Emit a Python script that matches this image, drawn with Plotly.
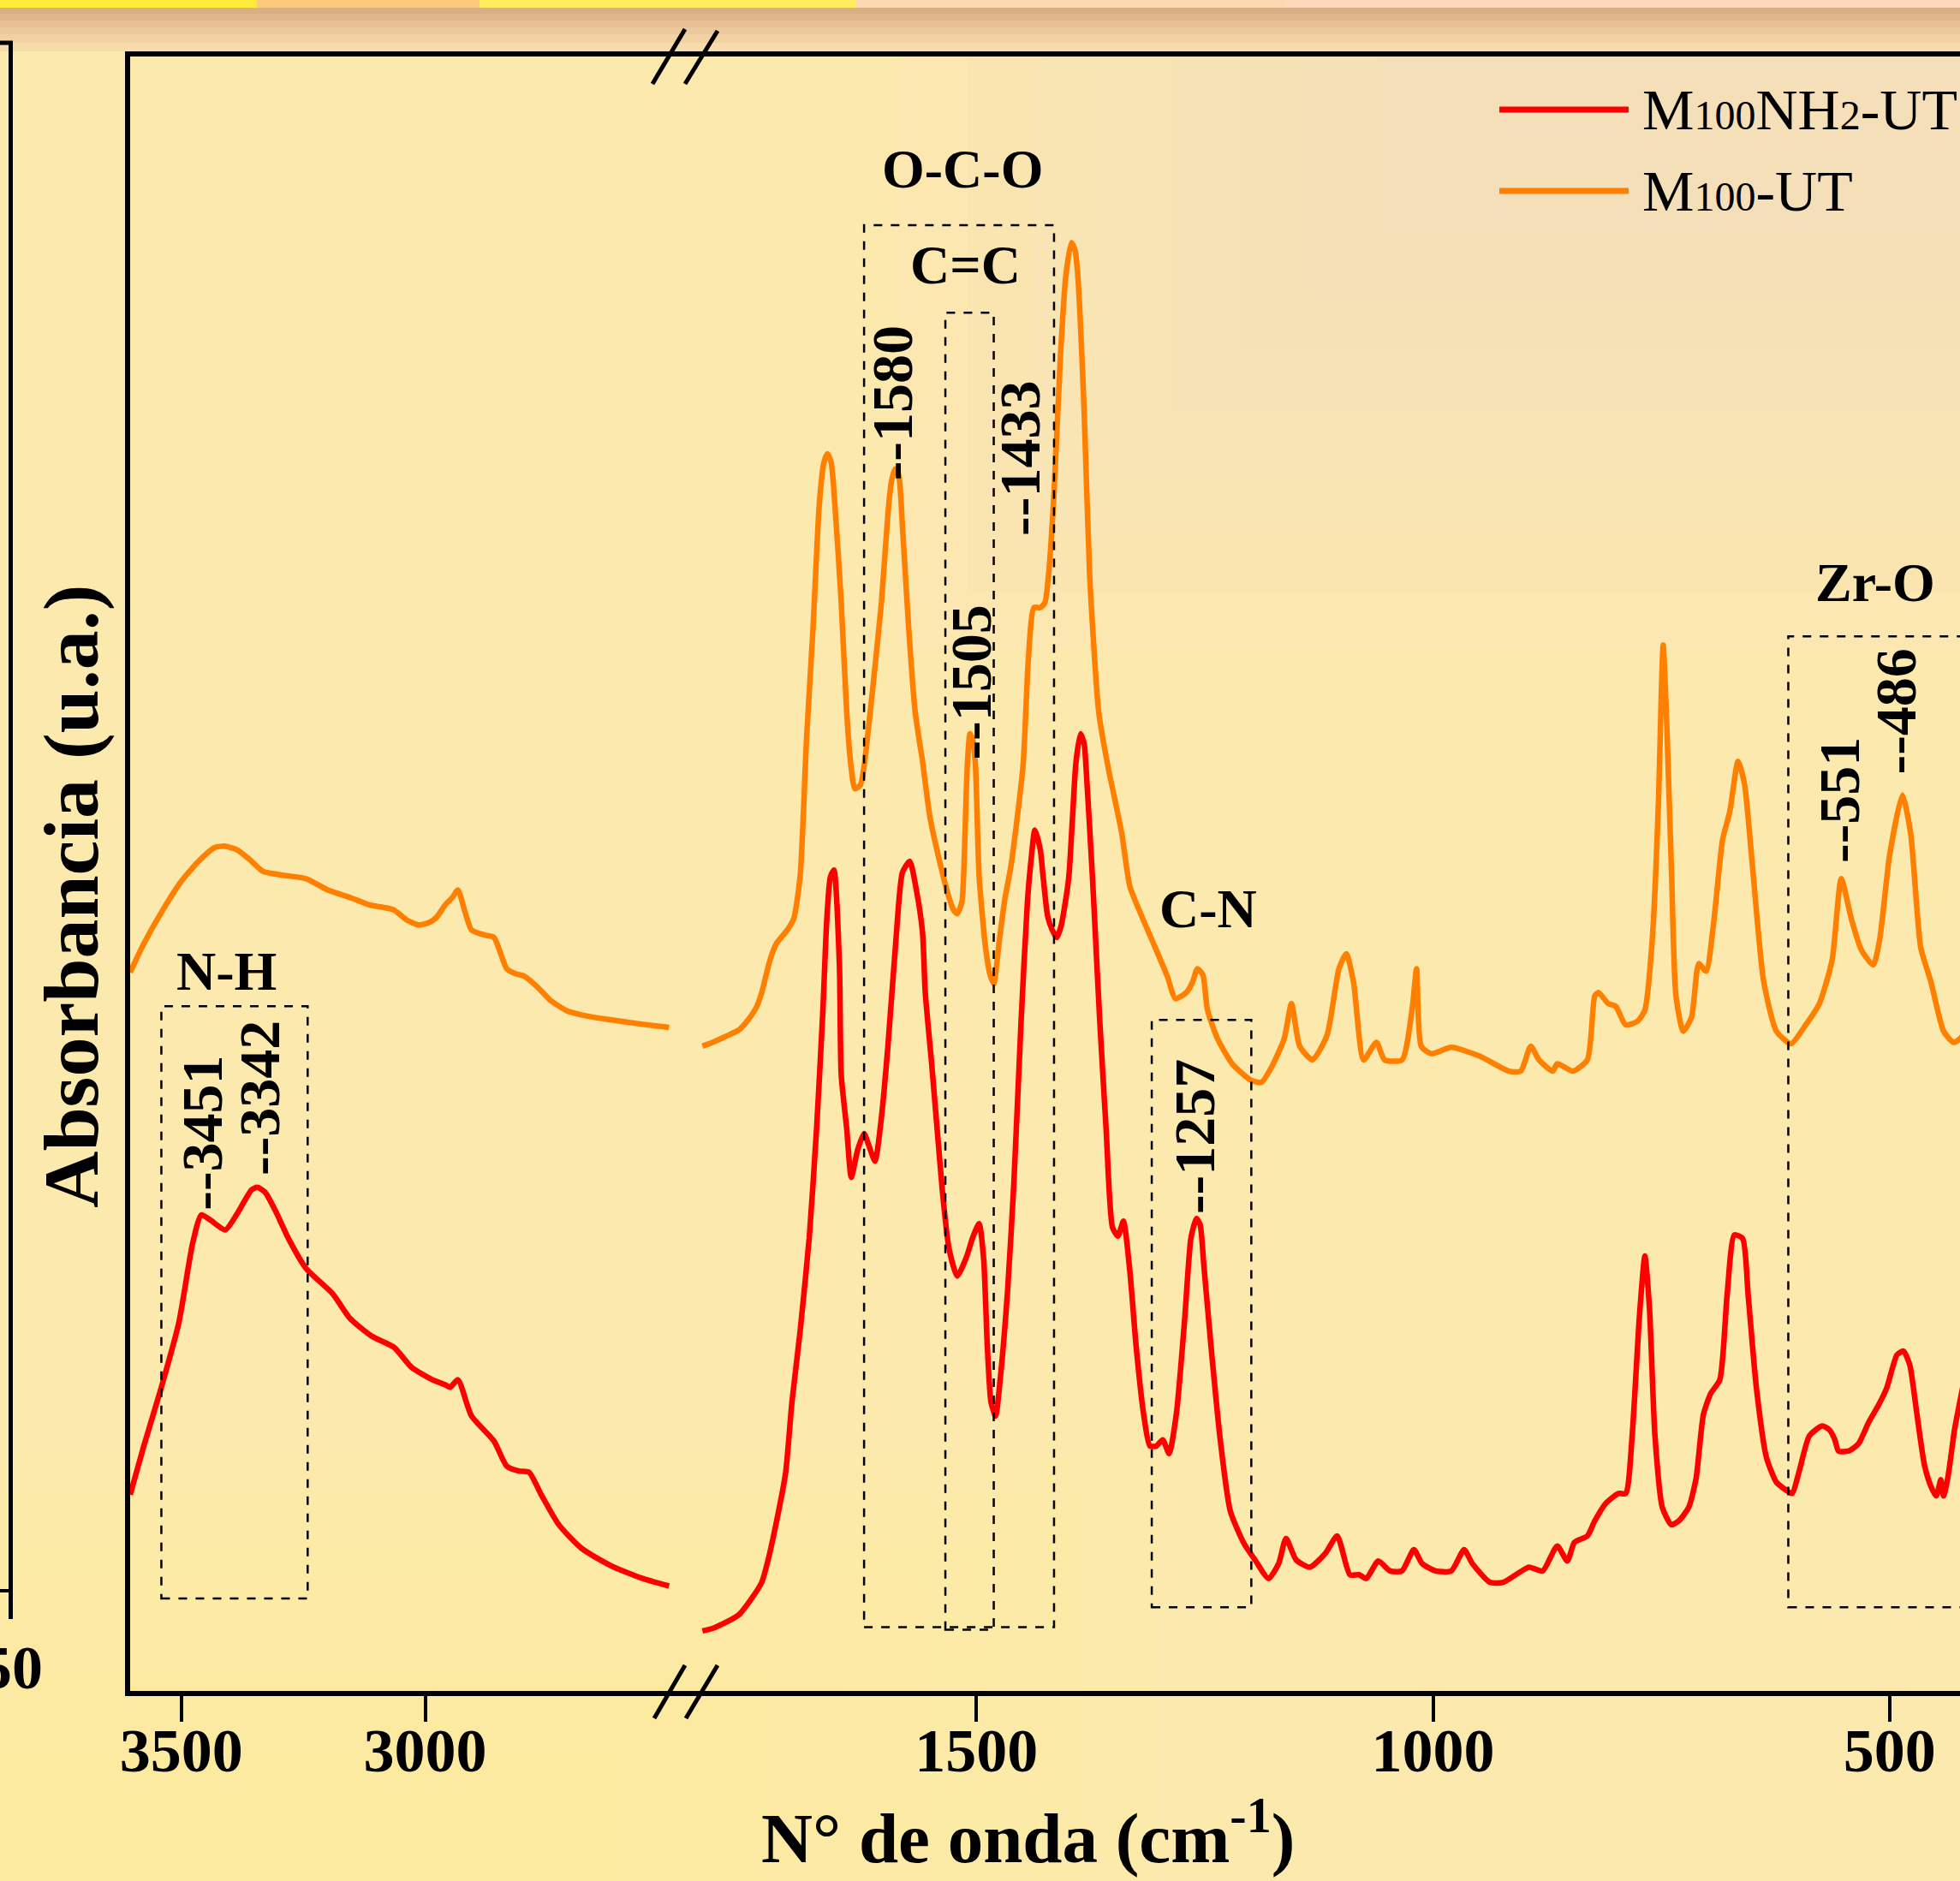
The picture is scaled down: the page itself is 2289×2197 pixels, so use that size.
import plotly.graph_objects as go

# ---------------- data ----------------
series_names = ["M100NH2-UT", "M100-UT"]
series_colors = ["#FF0000", "#FF8000"]

# high-wavenumber segment (3600-2500 cm-1)
wn_left_m100 = [3605, 3577, 3538, 3500, 3462, 3431, 3410, 3385, 3359, 3333, 3295, 3244, 3200,
                3154, 3115, 3085, 3064, 3038, 3013, 2992, 2977, 2959, 2944, 2933, 2918, 2905,
                2879, 2859, 2846, 2833, 2815, 2797, 2769, 2744, 2708, 2667, 2618, 2564, 2500]
abs_left_m100 = [57.5, 59.8, 62.5, 64.8, 66.5, 67.5, 67.6, 67.3, 66.5, 65.6, 65.3, 65.0, 64.1,
                 63.5, 62.9, 62.7, 62.5, 61.7, 61.3, 61.5, 61.9, 62.9, 63.5, 64.1, 62.3, 60.9,
                 60.5, 60.3, 59.1, 57.8, 57.4, 57.2, 56.3, 55.3, 54.4, 54.0, 53.7, 53.4, 53.1]

wn_left_nh2 = [3605, 3577, 3541, 3505, 3477, 3459, 3441, 3410, 3387, 3356, 3344, 3328, 3308,
               3279, 3244, 3190, 3154, 3110, 3064, 3028, 2985, 2959, 2949, 2933, 2905, 2859,
               2833, 2808, 2787, 2762, 2726, 2679, 2618, 2554, 2500]
abs_left_nh2 = [15.7, 19.6, 24.3, 29.5, 35.8, 38.1, 37.7, 36.9, 38.1, 40.1, 40.3, 39.9, 38.5,
                36.1, 33.8, 31.8, 29.8, 28.4, 27.5, 25.9, 24.9, 24.5, 24.3, 24.9, 22.0, 20.0,
                18.0, 17.6, 17.5, 15.7, 13.3, 11.4, 10.0, 9.0, 8.4]

# low-wavenumber segment (1800-400 cm-1)
wn_right_m100 = [1800, 1789, 1774, 1760, 1750, 1741, 1735, 1726, 1719, 1707, 1700, 1693, 1686,
                 1679, 1672, 1667, 1663, 1659, 1655, 1648, 1642, 1637, 1633, 1627, 1623, 1615,
                 1604, 1597, 1593, 1589, 1585, 1581, 1574, 1567, 1559, 1551, 1538, 1530, 1525,
                 1521, 1516, 1514, 1510, 1507, 1504, 1501, 1497, 1490, 1485, 1481, 1475, 1469,
                 1462, 1449, 1443, 1437, 1430, 1425, 1421, 1415, 1408, 1402, 1396, 1392, 1389,
                 1382, 1376, 1366, 1356, 1341, 1332, 1319, 1306, 1291, 1282, 1270, 1263, 1258,
                 1252, 1247, 1236, 1220, 1200, 1188, 1177, 1163, 1155, 1146, 1132, 1116, 1103,
                 1095, 1087, 1076, 1062, 1053, 1034, 1023, 1018, 1013, 1002, 980, 949, 917, 904,
                 893, 884, 869, 864, 847, 831, 823, 819, 808, 800, 789, 776, 768, 760, 753, 750,
                 748, 744, 739, 734, 726, 717, 709, 701, 693, 683, 675, 666, 659, 650, 638, 624,
                 608, 592, 577, 563, 553, 542, 531, 518, 511, 500, 486, 477, 466, 455, 441, 430,
                 423, 410]
abs_right_m100 = [51.6, 51.9, 52.4, 52.9, 53.7, 54.7, 55.9, 58.5, 59.8, 60.9, 61.8, 65.2, 76.2,
                  84.9, 95.0, 98.3, 99.0, 98.3, 95.0, 87.1, 78.3, 73.8, 72.2, 72.5, 74.0, 79.2,
                  87.1, 94.1, 96.8, 97.8, 97.3, 93.2, 84.9, 78.3, 74.4, 70.0, 65.7, 63.5, 62.5,
                  62.2, 63.1, 65.2, 74.0, 76.6, 76.1, 74.0, 65.2, 59.5, 57.3, 56.6, 60.0, 63.3,
                  66.1, 74.0, 82.7, 86.7, 86.7, 87.1, 89.3, 95.9, 106.8, 113.3, 115.9, 115.3, 113.3,
                  102.4, 89.3, 78.3, 74.0, 68.7, 64.4, 62.0, 59.8, 57.2, 55.4, 55.9, 56.8, 57.8,
                  57.3, 54.5, 52.2, 50.2, 48.9, 48.7, 49.9, 52.2, 55.0, 51.6, 50.5, 52.5, 57.8,
                  59.0, 56.7, 50.5, 51.9, 50.5, 50.5, 54.5, 57.8, 51.6, 51.0, 51.5, 50.8, 49.6, 49.6,
                  51.6, 50.5, 49.6, 50.2, 49.6, 50.5, 55.6, 55.9, 55.0, 54.8, 53.3, 53.6, 54.5, 60.1,
                  71.5, 80.0, 83.7, 77.2, 65.8, 55.6, 52.8, 53.9, 58.2, 57.6, 61.3, 68.1, 70.4, 74.4,
                  72.6, 65.8, 56.8, 52.8, 51.8, 53.3, 55.0, 58.5, 65.0, 61.8, 59.3, 58.1, 60.1, 66.9,
                  71.7, 68.6, 59.5, 56.8, 52.8, 51.9, 52.2, 53.5]

wn_right_nh2 = [1800, 1789, 1774, 1760, 1748, 1735, 1728, 1719, 1709, 1702, 1693, 1683, 1675,
                1668, 1664, 1660, 1656, 1650, 1648, 1642, 1637, 1630, 1623, 1618, 1611, 1604,
                1597, 1588, 1581, 1573, 1566, 1559, 1556, 1549, 1542, 1537, 1530, 1521, 1511,
                1504, 1497, 1492, 1488, 1484, 1479, 1474, 1466, 1459, 1451, 1444, 1440, 1436,
                1430, 1427, 1422, 1417, 1412, 1407, 1399, 1395, 1391, 1386, 1382, 1380, 1373,
                1371, 1365, 1358, 1351, 1345, 1339, 1332, 1325, 1317, 1310, 1303, 1296, 1289,
                1281, 1272, 1265, 1259, 1255, 1251, 1243, 1233, 1222, 1207, 1195, 1180, 1169,
                1161, 1150, 1135, 1118, 1105, 1091, 1081, 1073, 1060, 1047, 1034, 1021, 1012,
                997, 980, 966, 957, 938, 923, 895, 880, 864, 853, 845, 831, 823, 811, 797, 789,
                782, 774, 768, 763, 757, 749, 739, 731, 720, 712, 704, 696, 686, 678, 670, 661,
                655, 646, 635, 624, 614, 607, 599, 588, 574, 566, 560, 556, 545, 534, 523, 512,
                503, 492, 485, 478, 471, 462, 455, 449, 444, 441, 436, 429, 423, 410]
abs_right_nh2 = [4.8, 5.0, 5.5, 6.1, 7.2, 8.7, 10.5, 13.5, 17.4, 23.1, 28.8, 36.3, 45.0,
                 54.6, 61.5, 65.1, 65.7, 58.1, 49.3, 45.0, 41.1, 43.3, 44.6, 43.7, 42.4, 45.9,
                 51.5, 60.2, 65.5, 66.4, 64.2, 60.7, 55.9, 50.2, 44.1, 39.8, 35.4, 33.2, 34.7,
                 36.3, 37.4, 34.5, 27.5, 23.1, 22.0, 24.9, 31.9, 40.6, 53.7, 63.3, 66.6, 68.9,
                 67.3, 65.2, 62.0, 60.9, 60.3, 61.3, 65.0, 69.6, 74.3, 76.6, 75.8, 74.0, 65.2,
                 62.4, 53.7, 45.0, 37.1, 36.4, 37.6, 33.6, 27.5, 22.2, 19.6, 19.6, 20.1, 19.0,
                 22.2, 29.7, 36.3, 37.8, 37.3, 34.1, 27.5, 20.1, 14.4, 11.8, 10.5, 9.0, 10.2,
                 12.2, 10.5, 9.9, 11.0, 12.4, 9.3, 9.3, 9.0, 10.4, 9.6, 9.6, 11.3, 10.2,
                 9.6, 9.6, 11.3, 10.2, 8.7, 8.7, 9.9, 9.6, 11.6, 10.4, 11.9, 12.4, 13.6, 15.0, 15.8, 15.8,
                 20.4, 30.0, 34.8, 30.6, 20.4, 14.7, 13.3, 13.6, 14.7, 17.0, 22.1, 23.8, 24.9, 31.7, 36.5, 36.2,
                 31.7, 24.3, 18.7, 16.7, 16.1, 15.8, 17.6, 20.4, 21.2, 20.9, 20.1, 19.2, 19.2, 19.8, 21.5, 22.9,
                 24.3, 26.9, 27.2, 26.1, 22.6, 18.1, 16.4, 15.6, 16.9, 15.6, 17.2, 20.9, 23.2, 28.0]

ticks_left = [3500, 3000]
ticks_right = [1500, 1000, 500]

# band labels: text, axis, wavenumber, absorbance
band_labels = [("N-H", "x", 3408, 57.6), ("O-C-O", "x2", 1515, 121.8), ("C=C", "x2", 1512, 114.1),
               ("C-N", "x2", 1246, 62.6), ("Zr-O", "x2", 516, 88.7)]
# peak labels: text, axis, wavenumber, absorbance
peak_labels = [("3451", "x", 3459, 38.3), ("3342", "x", 3341, 41.1), ("1580", "x2", 1592, 96.7),
               ("1505", "x2", 1506, 74.4), ("1433", "x2", 1452, 92.3), ("1257", "x2", 1261, 38.0),
               ("551", "x2", 555, 66.1), ("486", "x2", 493, 73.2)]
# dashed boxes: axis, wn0, wn1, abs0, abs1
band_boxes = [("x", 3541, 3241, 7.4, 54.8), ("x2", 1623, 1415, 5.1, 117.3),
              ("x2", 1534, 1481, 4.9, 110.3), ("x2", 1308, 1199, 6.7, 53.7),
              ("x2", 611, 380, 6.7, 84.4)]

# ---------------- figure ----------------
W, H = 2289, 2197
PL, PT, PB = 152, 66, 1975          # plot area pixel edges
FONT = "Liberation Serif, Times New Roman, serif"


def px(X):
    return (X - PL) / (W - PL)


def py(Y):
    return (PB - Y) / (PB - PT)


fig = go.Figure()
line_kw = dict(width=6.5, shape="spline", smoothing=0.6)
fig.add_trace(go.Scatter(x=wn_left_nh2, y=abs_left_nh2, xaxis="x", yaxis="y", mode="lines",
                         line=dict(color=series_colors[0], **line_kw), name=series_names[0]))
fig.add_trace(go.Scatter(x=wn_left_m100, y=abs_left_m100, xaxis="x", yaxis="y", mode="lines",
                         line=dict(color=series_colors[1], **line_kw), name=series_names[1]))
fig.add_trace(go.Scatter(x=wn_right_nh2, y=abs_right_nh2, xaxis="x2", yaxis="y", mode="lines",
                         line=dict(color=series_colors[0], **line_kw), name=series_names[0]))
fig.add_trace(go.Scatter(x=wn_right_m100, y=abs_right_m100, xaxis="x2", yaxis="y", mode="lines",
                         line=dict(color=series_colors[1], **line_kw), name=series_names[1]))

split = px(799)
axis_common = dict(showgrid=False, zeroline=False, showline=True, linecolor="black", linewidth=5.5,
                   mirror=True, ticks="outside", ticklen=30, tickwidth=4, tickcolor="black",
                   ticklabelstandoff=-28,
                   tickfont=dict(family=FONT, size=72, color="black", weight="bold"))
fig.update_layout(
    width=W, height=H,
    margin=dict(l=PL, r=0, t=PT, b=H - PB),
    paper_bgcolor="#FCE9AD",
    plot_bgcolor="rgba(0,0,0,0)",
    showlegend=False,
    xaxis=dict(domain=[0, split], range=[3605, 2469], tickvals=ticks_left, anchor="y", **axis_common),
    xaxis2=dict(domain=[split, 1], range=[1820, 423], tickvals=ticks_right, anchor="y", **axis_common),
    yaxis=dict(range=[0, 130.8], domain=[0, 1], showgrid=False, zeroline=False, showline=True,
               linecolor="black", linewidth=5.5, showticklabels=False, ticks="", anchor="x"),
)

shapes = []
# background tints (soft, stepped)
for i in range(8):
    shapes.append(dict(type="rect", xref="paper", yref="paper", layer="below", line=dict(width=0),
                       x0=px(1050 + 80 * i), x1=px(W + 10), y0=py(760 - 70 * i), y1=py(0),
                       fillcolor="#F5D8C6", opacity=0.08))
for i in range(8):
    shapes.append(dict(type="rect", xref="paper", yref="paper", layer="below", line=dict(width=0),
                       x0=px(-10), x1=px(1350 - 90 * i), y0=py(H + 10), y1=py(1700 + 50 * i),
                       fillcolor="#FFF59C", opacity=0.09))
# top banner strip + shadow
for x0, x1, c in [(0, 300, "#FFEC3A"), (300, 560, "#FBC97A"), (560, 1000, "#FFEB5E"),
                  (1000, 1500, "#FCD7B2"), (1500, W, "#FCD9B8")]:
    shapes.append(dict(type="rect", xref="paper", yref="paper", layer="below", line=dict(width=0),
                       x0=px(x0), x1=px(x1), y0=py(9), y1=py(0), fillcolor=c))
for y0, y1, c in [(9, 16, "#D9AE82"), (16, 24, "#DFB78B"), (24, 32, "#E6C094"), (32, 40, "#ECC99C"),
                  (40, 50, "#F2D1A3"), (50, 60, "#F7DBAA")]:
    shapes.append(dict(type="rect", xref="paper", yref="paper", layer="below", line=dict(width=0),
                       x0=px(0), x1=px(W), y0=py(y1), y1=py(y0), fillcolor=c))
# axis break marks
for (xa, ya, xb, yb) in [(764, 2007, 800, 1945), (801, 2007, 838, 1945),
                         (762, 98, 800, 34), (800, 98, 838, 36)]:
    shapes.append(dict(type="line", xref="paper", yref="paper", x0=px(xa), y0=py(ya), x1=px(xb), y1=py(yb),
                       line=dict(color="black", width=5)))
# partial neighbouring panel at the left edge
shapes.append(dict(type="line", xref="paper", yref="paper", x0=px(12.5), x1=px(12.5), y0=py(50), y1=py(1891),
                   line=dict(color="black", width=5)))
shapes.append(dict(type="line", xref="paper", yref="paper", x0=px(0), x1=px(15), y0=py(50), y1=py(50),
                   line=dict(color="black", width=5)))
shapes.append(dict(type="line", xref="paper", yref="paper", x0=px(0), x1=px(13), y0=py(1858), y1=py(1858),
                   line=dict(color="black", width=4)))
# dashed band boxes
for ax, a0, a1, b0, b1 in band_boxes:
    shapes.append(dict(type="rect", xref=ax, yref="y", x0=a0, x1=a1, y0=b0, y1=b1,
                       line=dict(color="black", width=2.5, dash="10px,10px"), fillcolor="rgba(0,0,0,0)"))
# legend lines
for yy, c in [(128, series_colors[0]), (223, series_colors[1])]:
    shapes.append(dict(type="line", xref="paper", yref="paper", x0=px(1751), x1=px(1902), y0=py(yy), y1=py(yy),
                       line=dict(color=c, width=7)))

annotations = []
for txt, ax, xv, yv in band_labels:
    annotations.append(dict(text="<b>%s</b>" % txt, xref=ax, yref="y", x=xv, y=yv, showarrow=False,
                            xanchor="center", yanchor="middle", font=dict(family=FONT, size=64, color="black")))
for txt, ax, xv, yv in peak_labels:
    annotations.append(dict(text="<b>--%s</b>" % txt, xref=ax, yref="y", x=xv, y=yv, showarrow=False,
                            textangle=-90, xanchor="center", yanchor="bottom",
                            font=dict(family=FONT, size=68, color="black")))
small = '<span style="font-size:48px">%s</span>'
legend_texts = ["M" + small % "100" + "NH" + small % "2" + "-UT", "M" + small % "100" + "-UT"]
for txt, yy in zip(legend_texts, [128, 223]):
    annotations.append(dict(text=txt, xref="paper", yref="paper", x=px(1916), y=py(yy), showarrow=False,
                            xanchor="left", yanchor="middle", font=dict(family=FONT, size=68, color="black")))
# axis titles
annotations.append(dict(text="<b>N° de onda (cm<sup>-1</sup>)</b>", xref="paper", yref="paper",
                        x=px(1200), y=py(2140), showarrow=False, xanchor="center", yanchor="middle",
                        font=dict(family=FONT, size=83, color="black")))
annotations.append(dict(text="<b>Absorbancia (u.a.)</b>", xref="paper", yref="paper",
                        x=px(83), y=py(1047), showarrow=False, xanchor="center", yanchor="middle",
                        textangle=-90, font=dict(family=FONT, size=92, color="black")))
# neighbouring panel tick label (cut by the page edge)
annotations.append(dict(text="<b>250</b>", xref="paper", yref="paper", x=px(52), y=py(1948), showarrow=False,
                        xanchor="right", yanchor="middle", font=dict(family=FONT, size=72, color="black")))

fig.update_layout(shapes=shapes, annotations=annotations)
fig.write_html("out.html", config={"displayModeBar": False},
               post_script="document.body.style.margin='0px';document.body.style.overflow='hidden';")
